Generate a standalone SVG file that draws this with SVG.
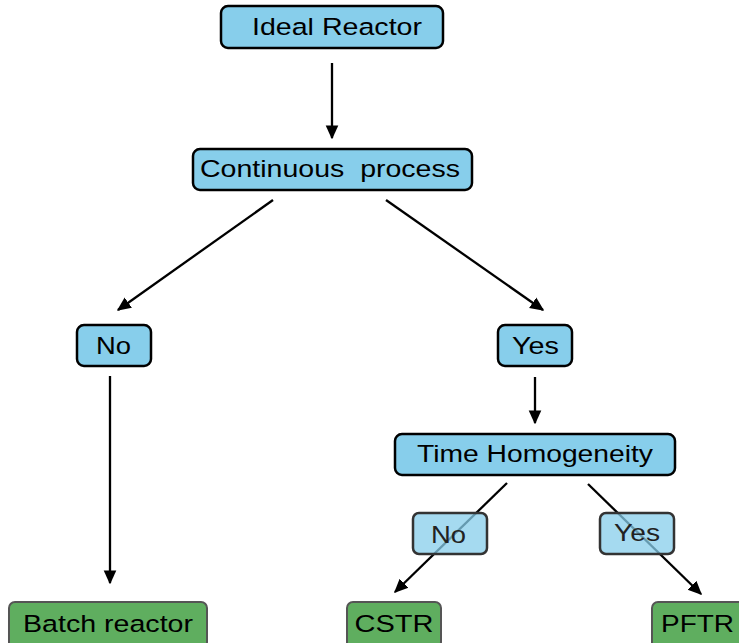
<svg xmlns="http://www.w3.org/2000/svg" width="739" height="643" viewBox="0 0 739 643">
<style>
.b{fill:#87ceeb;stroke:#000;stroke-width:2.5}
.l{fill:#87ceeb;fill-opacity:0.75;stroke:#333;stroke-width:2.5}
.g{fill:#5fae5f;stroke:#555;stroke-width:2}
text{font-family:"Liberation Sans",Arial,sans-serif;font-size:24.5px;fill:#000;text-anchor:middle}
.lt{fill:#222}
.c line{stroke:#000;stroke-width:2.3}
</style>
<defs>
<marker id="a" viewBox="0 0 10 10" refX="9" refY="5" markerWidth="14" markerHeight="14" orient="auto" markerUnits="userSpaceOnUse">
<path d="M0,0.5 L10,5 L0,9.5 z" fill="#000"/>
</marker>
</defs>
<g class="c">
<line x1="332" y1="63" x2="332" y2="138" marker-end="url(#a)"/>
<line x1="273" y1="200" x2="118" y2="310" marker-end="url(#a)"/>
<line x1="386" y1="200" x2="543" y2="310" marker-end="url(#a)"/>
<line x1="110" y1="376" x2="110" y2="583" marker-end="url(#a)"/>
<line x1="535" y1="377" x2="535" y2="423" marker-end="url(#a)"/>
<line x1="507" y1="483" x2="395" y2="592" marker-end="url(#a)"/>
<line x1="588" y1="484" x2="701" y2="594" marker-end="url(#a)"/>
</g>
<g id="ideal"><rect class="b" x="221" y="6" width="222" height="42" rx="7"/><text x="337" y="35" textLength="170" lengthAdjust="spacingAndGlyphs">Ideal Reactor</text></g>
<g id="continuous"><rect class="b" x="193" y="149" width="279" height="41" rx="7"/><text x="330" y="177" xml:space="preserve" textLength="260" lengthAdjust="spacingAndGlyphs">Continuous  process</text></g>
<g id="no1"><rect class="b" x="77" y="325" width="74" height="41" rx="7"/><text x="113.5" y="354" textLength="35" lengthAdjust="spacingAndGlyphs">No</text></g>
<g id="yes1"><rect class="b" x="498" y="325" width="74" height="41" rx="7"/><text x="535.5" y="354" textLength="47" lengthAdjust="spacingAndGlyphs">Yes</text></g>
<g id="time"><rect class="b" x="395" y="434" width="280" height="41" rx="7"/><text x="535" y="462" textLength="236" lengthAdjust="spacingAndGlyphs">Time Homogeneity</text></g>
<g id="no2"><rect class="l" x="413" y="513" width="74" height="41" rx="6"/><text class="lt" x="448.5" y="543" textLength="35" lengthAdjust="spacingAndGlyphs">No</text></g>
<g id="yes2"><rect class="l" x="600" y="513" width="74" height="41" rx="6"/><text class="lt" x="637" y="541" textLength="46" lengthAdjust="spacingAndGlyphs">Yes</text></g>
<g id="batch"><rect class="g" x="9" y="602" width="198" height="46" rx="6"/><text x="108" y="632" textLength="170" lengthAdjust="spacingAndGlyphs">Batch reactor</text></g>
<g id="cstr"><rect class="g" x="347" y="602" width="94" height="46" rx="6"/><text x="394" y="632" textLength="79" lengthAdjust="spacingAndGlyphs">CSTR</text></g>
<g id="pftr"><rect class="g" x="652" y="602" width="94" height="46" rx="6"/><text x="697.5" y="632" textLength="73" lengthAdjust="spacingAndGlyphs">PFTR</text></g>
</svg>
